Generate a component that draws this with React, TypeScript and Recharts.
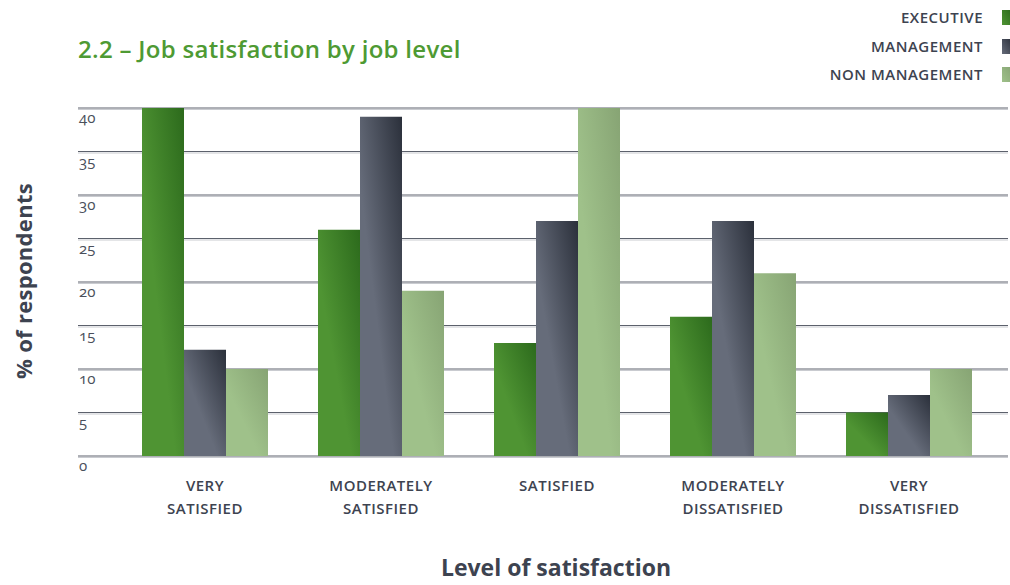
import { BarChart, Bar, XAxis, YAxis, CartesianGrid } from "recharts";

const categories = [
  "VERY\nSATISFIED",
  "MODERATELY\nSATISFIED",
  "SATISFIED",
  "MODERATELY\nDISSATISFIED",
  "VERY\nDISSATISFIED",
];
const executive = [40, 26, 13, 16, 5];
const management = [12.2, 39, 27, 27, 7];
const nonManagement = [10, 19, 40, 21, 10];
const yTicks = [0, 5, 10, 15, 20, 25, 30, 35, 40];

const series = [
  { key: "executive", name: "EXECUTIVE", dark: "#2c6a1c", light: "#4f9433" },
  { key: "management", name: "MANAGEMENT", dark: "#2b303b", light: "#666c7a" },
  { key: "nonManagement", name: "NON MANAGEMENT", dark: "#87a474", light: "#9fc18a" },
];

const data = categories.map((category, i) => ({
  category,
  executive: executive[i],
  management: management[i],
  nonManagement: nonManagement[i],
}));

const FONT = "'Open Sans', sans-serif";
const TEXT = "#3d4350";

const XTick = ({ x, y, payload }: any) => {
  const lines = String(payload.value).split("\n");
  return (
    <text
      x={x}
      y={y}
      textAnchor="middle"
      fill={TEXT}
      fontSize={15}
      fontWeight={600}
      fontFamily={FONT}
      letterSpacing={0.5}
    >
      {lines.map((line, i) => (
        <tspan key={i} x={x} dy={i === 0 ? 27 : 23}>
          {line}
        </tspan>
      ))}
    </text>
  );
};

const YTick = ({ y, payload }: any) => (
  <text
    x={79}
    y={y + 15}
    textAnchor="start"
    fill="#4a4f5b"
    fontSize={15}
    fontFamily={FONT}
    style={{ fontVariantNumeric: "oldstyle-nums" }}
  >
    {payload.value}
  </text>
);

const GridLine = (props: any) => (
  <g key={props.key}>
    <line x1={props.x1} x2={props.x2} y1={props.y1} y2={props.y2} stroke="#5c616c" strokeWidth={1} />
    <line x1={props.x1} x2={props.x2} y1={props.y1 + 1.5} y2={props.y2 + 1.5} stroke="#c9cbd0" strokeWidth={1} />
  </g>
);

export default function App() {
  return (
    <div
      style={{
        position: "absolute",
        left: 0,
        top: 0,
        width: 1010,
        height: 585,
        overflow: "hidden",
        background: "#fff",
        fontFamily: FONT,
      }}
    >
      <div
        style={{
          position: "absolute",
          left: 78,
          top: 32,
          fontSize: 24,
          fontWeight: 600,
          letterSpacing: 0.3,
          color: "#4e9a33",
          whiteSpace: "nowrap",
        }}
      >
        2.2 – Job satisfaction by job level
      </div>

      {series.map((s, i) => (
        <div key={s.key}>
          <div
            style={{
              position: "absolute",
              right: 27,
              top: 7 + i * 28.5,
              fontSize: 15,
              fontWeight: 600,
              color: TEXT,
              letterSpacing: 0.5,
              whiteSpace: "nowrap",
            }}
          >
            {s.name}
          </div>
          <div
            style={{
              position: "absolute",
              left: 1002,
              top: 10 + i * 28.5,
              width: 10,
              height: 15,
              background: `linear-gradient(to bottom left, ${s.dark}, ${s.light})`,
            }}
          />
        </div>
      ))}

      <div
        style={{
          position: "absolute",
          left: 23,
          top: 281,
          transform: "translate(-50%, -50%) rotate(-90deg)",
          fontSize: 22,
          fontWeight: 700,
          letterSpacing: 0.3,
          color: TEXT,
          whiteSpace: "nowrap",
        }}
      >
        % of respondents
      </div>

      <div
        style={{
          position: "absolute",
          left: 556,
          top: 556,
          transform: "translateX(-50%)",
          fontSize: 23,
          lineHeight: "23px",
          fontWeight: 700,
          color: TEXT,
          whiteSpace: "nowrap",
        }}
      >
        Level of satisfaction
      </div>

      <div style={{ position: "absolute", left: 0, top: 0 }}>
        <BarChart
          width={1010}
          height={585}
          data={data}
          margin={{ top: 108, right: 2, left: 77, bottom: 69 }}
          barGap={0}
        >
          <defs>
            {series.map((s) => (
              <linearGradient key={s.key} id={`grad-${s.key}`} x1="1" y1="0" x2="0" y2="1">
                <stop offset="0" stopColor={s.dark} />
                <stop offset="0.6" stopColor={s.light} />
                <stop offset="1" stopColor={s.light} />
              </linearGradient>
            ))}
          </defs>
          <CartesianGrid vertical={false} horizontal={GridLine} />
          <XAxis
            dataKey="category"
            height={60}
            padding={{ left: 39, right: 11 }}
            interval={0}
            tickLine={false}
            axisLine={false}
            tick={<XTick />}
          />
          <YAxis
            width={1}
            domain={[0, 40]}
            ticks={yTicks}
            tickLine={false}
            axisLine={false}
            tick={<YTick />}
          />
          {series.map((s) => (
            <Bar
              key={s.key}
              dataKey={s.key}
              name={s.name}
              barSize={42}
              fill={`url(#grad-${s.key})`}
              isAnimationActive={false}
            />
          ))}
        </BarChart>
      </div>
    </div>
  );
}
